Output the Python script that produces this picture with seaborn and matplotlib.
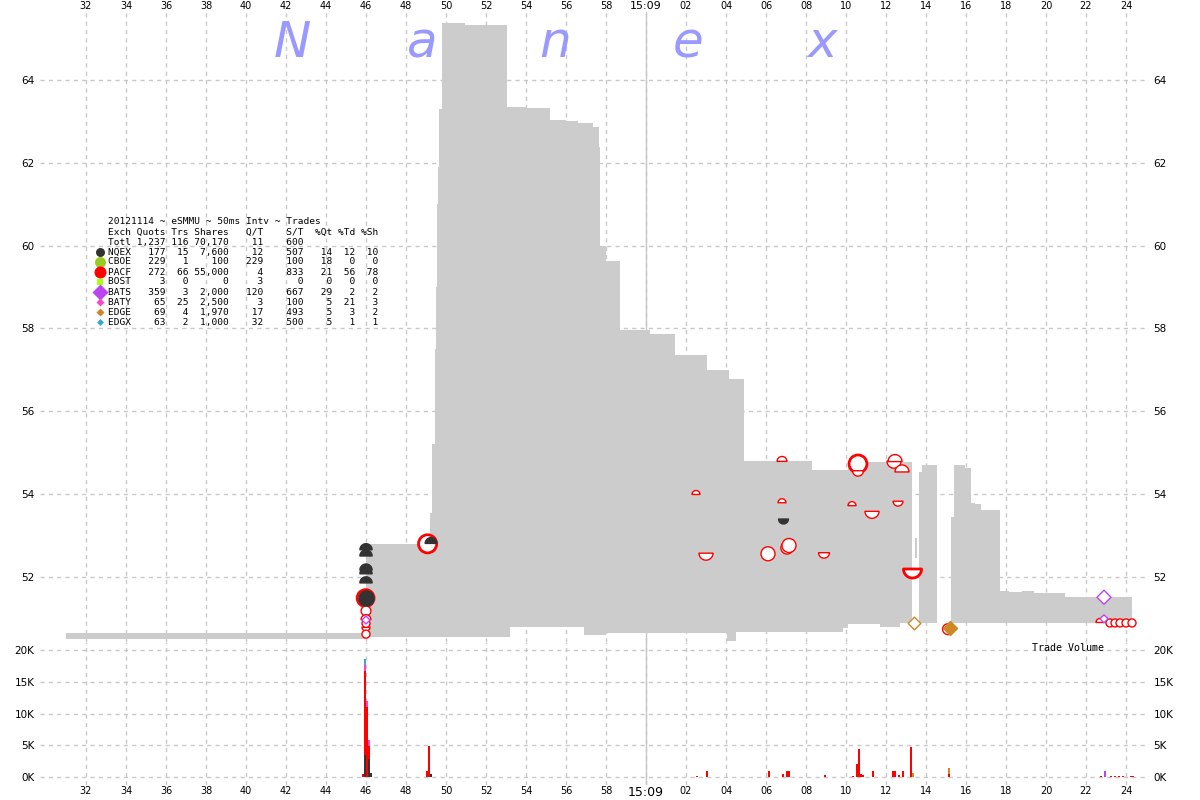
import numpy as np
import pandas as pd
import matplotlib
matplotlib.use('Agg')
import matplotlib.pyplot as plt
import seaborn as sns
from matplotlib.path import Path

# time axis: seconds after 15:08:00
# NBBO band, step segments (start, end, low, high)
band_t0 = [31.0, 46.0, 49.2, 49.3, 49.45, 49.5, 49.55, 49.6, 49.65, 49.8, 50.95, 53.05, 53.2, 54.0,
           55.2, 56.0, 56.6, 56.9, 57.35, 57.65, 57.7, 58.0, 58.7, 60.2, 61.45, 63.05, 64.05, 64.15,
           64.5, 64.9, 68.3, 69.85, 70.1, 71.7, 72.7, 73.45, 73.65, 73.8, 75.25, 75.4, 75.95, 76.25,
           76.45, 76.75, 77.7, 78.15, 78.8, 79.4, 80.95]
band_t1 = [46.0, 49.2, 49.3, 49.45, 49.5, 49.55, 49.6, 49.65, 49.8, 50.95, 53.05, 53.2, 54.0, 55.2,
           56.0, 56.6, 56.9, 57.35, 57.65, 57.7, 58.0, 58.7, 60.2, 61.45, 63.05, 64.05, 64.15, 64.5,
           64.9, 68.3, 69.85, 70.1, 71.7, 72.7, 73.3, 73.55, 73.8, 74.55, 75.4, 75.95, 76.25, 76.45,
           76.75, 77.7, 78.15, 78.8, 79.4, 80.95, 84.3]
band_lo = [50.50, 50.55, 50.55, 50.55, 50.55, 50.55, 50.55, 50.55, 50.55, 50.55, 50.55, 50.55, 50.79, 50.79,
           50.79, 50.79, 50.79, 50.60, 50.60, 50.60, 50.60, 50.65, 50.65, 50.65, 50.65, 50.65, 50.46, 50.46,
           50.67, 50.67, 50.67, 50.77, 50.87, 50.79, 50.89, 52.46, 50.89, 50.89, 50.89, 50.89, 50.89, 50.89,
           50.89, 50.89, 50.89, 50.89, 50.89, 50.89, 50.89]
band_hi = [50.65, 52.80, 53.55, 55.20, 57.50, 59.00, 61.00, 61.90, 63.30, 65.38, 65.33, 63.35, 63.35, 63.32,
           63.03, 63.00, 62.96, 62.96, 62.87, 62.38, 60.00, 59.63, 57.96, 57.87, 57.36, 57.00, 57.00, 56.78,
           56.78, 54.80, 54.58, 54.58, 54.78, 54.78, 54.78, 52.94, 54.54, 54.70, 53.45, 54.70, 54.63, 53.79,
           53.76, 53.62, 51.66, 51.64, 51.66, 51.61, 51.52]

# trades
tr_t = [45.98, 46.0, 46.0, 46.0, 46.0, 46.0, 46.0, 49.08, 62.5, 63.0, 66.8, 66.8, 66.1, 67.05, 67.15,
        68.9, 70.3, 70.6, 70.6, 71.3, 72.45, 72.4, 72.8, 72.6, 73.3, 75.1, 82.7, 83.2, 83.45, 83.7, 84.0, 84.3,
        46.0, 82.9, 82.9,
        73.4, 75.2,
        46.0, 46.0, 46.0, 46.0, 46.0, 45.98, 49.25, 66.85]
tr_price = [51.49, 51.32, 51.18, 51.03, 50.88, 50.74, 50.62, 52.80, 54.04, 52.49, 54.85, 53.84, 52.56, 52.70, 52.76,
            52.52, 53.77, 54.73, 54.50, 53.50, 54.87, 54.71, 54.62, 53.77, 52.10, 50.74, 50.95, 50.89, 50.89, 50.89, 50.89, 50.89,
            50.96, 51.51, 50.99,
            50.88, 50.76,
            52.73, 52.58, 52.24, 52.15, 51.93, 51.49, 52.88, 53.35]
tr_ex = ['PACF'] * 32 + ['BATS'] * 3 + ['EDGE'] * 2 + ['NQEX'] * 8
tr_kind = ['o', 'bot', 'o', 'top', 'o', 'bot', 'o', 'o', 'top', 'bot', 'top', 'top', 'o', 'o', 'o',
           'bot', 'top', 'o', 'bot', 'bot', 'top', 'bot', 'top', 'bot', 'bot', 'o', 'top', 'o', 'o', 'o', 'o', 'o',
           'D', 'D', 'D',
           'D', 'D',
           'top', 'top', 'top', 'top', 'top', 'o', 'top', 'bot']
tr_shares = [3000, 200, 200, 200, 100, 100, 100, 4900, 100, 1000, 200, 100, 1000, 500, 1000,
             300, 100, 4400, 300, 1000, 1000, 1000, 1000, 200, 4800, 300, 100, 100, 100, 100, 100, 100,
             100, 1000, 100,
             600, 1000,
             500, 500, 500, 500, 500, 1500, 400, 200]
tr_filled = [False] * 35 + [False, True] + [True] * 8

# trade volume per 50ms interval
vol_t = [45.85, 45.95, 45.95, 45.95, 45.95, 46.05, 46.05, 46.15, 46.15, 46.15, 46.25,
         49.05, 49.15, 49.25, 62.55, 63.05, 66.15, 66.85, 67.05, 67.15, 68.95, 70.35,
         70.55, 70.65, 70.75, 70.85, 71.35, 72.35, 72.45, 72.65, 72.85, 73.25, 73.35,
         75.15, 75.15, 82.75, 82.95, 83.25, 83.45, 83.65, 83.85, 84.25, 84.35]
vol_ex = ['PACF', 'NQEX', 'PACF', 'BATY', 'EDGX', 'PACF', 'BATY', 'NQEX', 'PACF', 'BATY', 'NQEX',
          'PACF', 'PACF', 'NQEX', 'PACF', 'PACF', 'PACF', 'PACF', 'PACF', 'PACF', 'PACF', 'PACF',
          'PACF', 'PACF', 'PACF', 'PACF', 'PACF', 'PACF', 'PACF', 'PACF', 'PACF', 'PACF', 'EDGE',
          'PACF', 'EDGE', 'PACF', 'BATS', 'PACF', 'PACF', 'PACF', 'PACF', 'PACF', 'PACF']
vol_sh = [500, 3400, 13300, 1000, 900, 11000, 1000, 2900, 2000, 1000, 600,
          900, 4900, 500, 200, 1000, 1000, 500, 1000, 1000, 300, 200,
          2000, 4400, 500, 300, 1000, 1000, 1000, 300, 1000, 4800, 600,
          400, 1000, 100, 1000, 100, 100, 100, 100, 100, 100]

# exchange summary table
exch = ['NQEX', 'CBOE', 'PACF', 'BOST', 'BATS', 'BATY', 'EDGE', 'EDGX']
quots = [177, 229, 272, 3, 359, 65, 69, 63]
trs = [15, 1, 66, 0, 3, 25, 4, 2]
shares = [7600, 100, 55000, 0, 2000, 2500, 1970, 1000]
q_t = [12, 229, 4, 3, 120, 3, 17, 32]
s_t = [507, 100, 833, 0, 667, 100, 493, 500]
pct_qt = [14, 18, 21, 0, 29, 5, 5, 5]
pct_td = [12, 0, 56, 0, 2, 21, 3, 1]
pct_sh = [10, 0, 78, 0, 2, 3, 2, 1]
totals = ['Totl', '1,237', '116', '70,170', '11', '600', '', '', '']

ex_color = {'NQEX': '#333333', 'CBOE': '#99cc22', 'PACF': '#ff0000', 'BOST': '#aaff00',
            'BATS': '#bb44ee', 'BATY': '#ff44cc', 'EDGE': '#cc8822', 'EDGX': '#33aacc'}
ex_marker = {'NQEX': 'o', 'CBOE': 'o', 'PACF': 'o', 'BOST': 's',
             'BATS': 'D', 'BATY': 'D', 'EDGE': 'D', 'EDGX': 'D'}
legend_px = [9, 11, 12, 6, 16, 8, 8, 7]

sns.set_theme(style='white')
plt.rcParams['font.family'] = ['DejaVu Sans']
plt.rcParams['text.color'] = 'black'
plt.rcParams['xtick.color'] = 'black'
plt.rcParams['ytick.color'] = 'black'

W, H = 1200, 800
fig = plt.figure(figsize=(12, 8), dpi=100)
L, R = 40, 1148
ax = fig.add_axes([L / W, (H - 642) / H, (R - L) / W, 630 / H])
axv = fig.add_axes([L / W, (H - 785) / H, (R - L) / W, 143 / H], sharex=ax)

xmin, xmax = 29.7, 85.1
grid_kw = dict(color='#c8c8c8', lw=1, ls=(0, (3, 3)))
for a in (ax, axv):
    a.set_facecolor('white')
    a.set_axisbelow(True)
    a.grid(True, **grid_kw)
    for s in a.spines.values():
        s.set_visible(False)
    a.axvline(60, color='#c8c8c8', lw=1, zorder=0.6)

# gray quote band
t0 = np.array(band_t0)
t1 = np.array(band_t1)
lo = np.array(band_lo)
hi = np.array(band_hi)
ax.bar(t0, hi - lo, width=t1 - t0, bottom=lo, align='edge', color='#cccccc', linewidth=0, zorder=1)

# trade markers (half circles for trades at bid / ask)
th = np.linspace(0, np.pi, 30)
codes = [Path.MOVETO] + [Path.LINETO] * (len(th) - 1) + [Path.CLOSEPOLY]
top_v = np.vstack([np.column_stack([np.cos(th), np.sin(th) - 0.5]), [[1, -0.5]]])
bot_v = np.vstack([np.column_stack([np.cos(th), 0.5 - np.sin(th)]), [[1, 0.5]]])
top_path = Path(top_v, codes)
bot_path = Path(bot_v, codes)
kind_marker = {'o': 'o', 'top': top_path, 'bot': bot_path, 'D': 'D'}

trades = pd.DataFrame({'t': tr_t, 'price': tr_price, 'ex': tr_ex, 'kind': tr_kind,
                       'shares': tr_shares, 'filled': tr_filled})
trades['w'] = 8 + 6 * np.log10(trades['shares'] / 100)
trades['pt'] = trades['w'] * 0.72 / np.where(trades['kind'] == 'D', 1.414, 1.0)
trades['lw'] = np.where(trades['shares'] >= 3000, 2.0, 1.0)

for ex in ['PACF', 'BATS', 'EDGE', 'NQEX']:
    for (kind, filled, lw), g in trades[trades['ex'] == ex].groupby(['kind', 'filled', 'lw'], sort=False):
        col = ex_color[ex]
        sns.scatterplot(x=g['t'].values, y=g['price'].values, ax=ax, marker=kind_marker[kind],
                        s=(g['pt'].values ** 2), facecolor=col if filled else 'white',
                        edgecolor=col, linewidth=lw, zorder=3, legend=False)

ax.set_xlim(xmin, xmax)
ax.set_ylim(50.43, 65.64)
ax.set_yticks(np.arange(52, 65, 2))
ax.set_yticklabels([f'{v}' for v in range(52, 65, 2)])

# volume histogram
vol = pd.DataFrame({'t': vol_t, 'ex': vol_ex, 'sh': vol_sh})
stack_order = ['EDGX', 'BATY', 'BATS', 'EDGE', 'PACF', 'NQEX']
sns.histplot(data=vol, x='t', weights='sh', hue='ex', hue_order=stack_order, palette=ex_color,
             multiple='stack', binwidth=0.1, binrange=(xmin, xmax), linewidth=0, alpha=1,
             legend=False, ax=axv, zorder=2)
axv.set_ylim(-1260, 21260)
axv.set_yticks([0, 5000, 10000, 15000, 20000])
axv.set_yticklabels(['0K', '5K', '10K', '15K', '20K'])
axv.set_xlabel('')
axv.set_ylabel('')
axv.text(81.1, 20300, 'Trade Volume', family='DejaVu Sans Mono', fontsize=7.2, ha='center', va='center')

# x ticks
xt = np.arange(32, 85, 2)
xl = [str(v) if v < 60 else ('15:09' if v == 60 else f'{v - 60:02d}') for v in xt]
ax.set_xticks(xt)
ax.set_xticklabels(xl)
axv.set_xticks(xt)
axv.set_xticklabels(xl)
ax.xaxis.tick_top()
ax.tick_params(axis='x', length=0, pad=1, labelsize=7, labeltop=True, labelbottom=False)
axv.tick_params(axis='x', length=0, pad=1, labelsize=7, labelbottom=True)
for a, fs in ((ax, 8), (axv, 9)):
    a.tick_params(axis='y', length=0, pad=4, labelsize=7.5, labelleft=True, labelright=True)
    for lab in a.get_xticklabels():
        if lab.get_text() == '15:09':
            lab.set_fontsize(fs)
ax.set_xlabel('')
ax.set_ylabel('')

# Nanex watermark
for ch, px in zip('Nanex', [292, 422, 555, 688, 822]):
    fig.text(px / W, 1 - 43 / H, ch, color='#9999ff', fontsize=36, style='italic',
             ha='center', va='center', zorder=0.5)

# summary table overlay (pixel coordinates)
lax = fig.add_axes([0, 0, 1, 1], zorder=5)
lax.set_xlim(0, W)
lax.set_ylim(H, 0)
lax.axis('off')
lax.patch.set_alpha(0)

mono = dict(family='DejaVu Sans Mono', fontsize=6.8, va='center', ha='left')
fmt = '{:<4}{:>6}{:>4}{:>7}{:>6}{:>7}{:>5}{:>4}{:>4}'
lax.text(108, 222, '20121114 ~ eSMMU ~ 50ms Intv ~ Trades', **mono)
lax.text(108, 232, fmt.format('Exch', 'Quots', 'Trs', 'Shares', 'Q/T', 'S/T', '%Qt', '%Td', '%Sh'), **mono)
lax.text(108, 242, fmt.format(*totals), **mono)
for i, ex in enumerate(exch):
    y = 252 + 10 * i
    row = fmt.format(ex, f'{quots[i]:,}', trs[i], f'{shares[i]:,}', q_t[i], s_t[i],
                     pct_qt[i], pct_td[i], pct_sh[i])
    lax.text(108, y, row, **mono)
    m = ex_marker[ex]
    sz = legend_px[i] * 0.72 / (1.414 if m == 'D' else 1.0)
    sns.scatterplot(x=[100], y=[y], ax=lax, marker=m, s=sz ** 2, color=ex_color[ex],
                    edgecolor=ex_color[ex], linewidth=0, legend=False)

fig.savefig('out.png', dpi=100)
